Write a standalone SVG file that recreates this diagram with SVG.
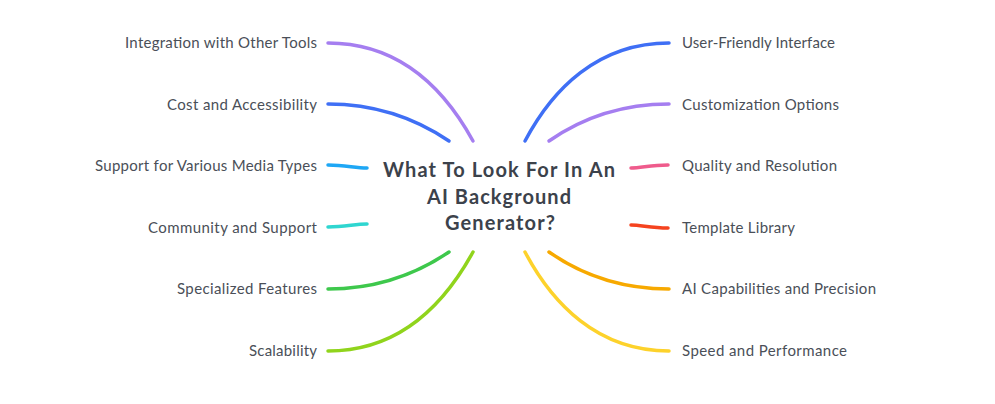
<svg xmlns="http://www.w3.org/2000/svg" width="995" height="404" viewBox="0 0 995 404">
<style>
.c{fill:none;stroke-width:3.5;stroke-linecap:round}
.l{font-family:Lato,"Noto Sans",sans-serif;font-size:15px;fill:#4a4f58}
.r{text-anchor:end}
.t{font-family:Lato,"Noto Sans",sans-serif;font-size:20px;font-weight:bold;fill:#3c424b;text-anchor:middle}
</style>
<rect width="995" height="404" fill="#ffffff"/>
<g id="connectors">
<path class="c" stroke="#a57ef0" d="M328,43 C400,43 445,90 473,141"/>
<path class="c" stroke="#3f6ff5" d="M328,104 C375,104 415,118 449,141"/>
<path class="c" stroke="#1ea7f5" d="M328,165 C345,165 355,168 367,168"/>
<path class="c" stroke="#2fd6d0" d="M328,227 C345,227 355,224 367,224"/>
<path class="c" stroke="#3ec84c" d="M328,289 C375,289 415,275 449,252"/>
<path class="c" stroke="#90d41c" d="M328,351 C400,351 445,303 473,252"/>
<path class="c" stroke="#3f6ff5" d="M669,43 C597,43 552,90 525,141"/>
<path class="c" stroke="#a57ef0" d="M669,104 C622,104 582,118 549,141"/>
<path class="c" stroke="#ef5b8c" d="M668,165 C651,165 641,168 631,168"/>
<path class="c" stroke="#f5431f" d="M668,228 C651,228 641,225 631,225"/>
<path class="c" stroke="#f7a900" d="M669,289 C622,289 582,275 549,252"/>
<path class="c" stroke="#fdd22b" d="M669,351 C597,351 552,303 525,252"/>
</g>
<g id="center"><text class="t" x="499" y="177" textLength="232" lengthAdjust="spacing">What To Look For In An</text><text class="t" x="499" y="204" textLength="144" lengthAdjust="spacing">AI Background</text><text class="t" x="500" y="230" textLength="110" lengthAdjust="spacing">Generator?</text></g>
<g id="n1"><text class="l r" x="317" y="48" textLength="192" lengthAdjust="spacing">Integration with Other Tools</text></g>
<g id="n2"><text class="l r" x="317" y="110" textLength="150" lengthAdjust="spacing">Cost and Accessibility</text></g>
<g id="n3"><text class="l r" x="317" y="171" textLength="222" lengthAdjust="spacing">Support for Various Media Types</text></g>
<g id="n4"><text class="l r" x="317" y="233" textLength="169" lengthAdjust="spacing">Community and Support</text></g>
<g id="n5"><text class="l r" x="317" y="294" textLength="140" lengthAdjust="spacing">Specialized Features</text></g>
<g id="n6"><text class="l r" x="317" y="356" textLength="68" lengthAdjust="spacing">Scalability</text></g>
<g id="n7"><text class="l" x="682" y="48" textLength="153" lengthAdjust="spacing">User-Friendly Interface</text></g>
<g id="n8"><text class="l" x="682" y="110" textLength="157" lengthAdjust="spacing">Customization Options</text></g>
<g id="n9"><text class="l" x="682" y="171" textLength="155" lengthAdjust="spacing">Quality and Resolution</text></g>
<g id="n10"><text class="l" x="682" y="233" textLength="113" lengthAdjust="spacing">Template Library</text></g>
<g id="n11"><text class="l" x="682" y="294" textLength="194" lengthAdjust="spacing">AI Capabilities and Precision</text></g>
<g id="n12"><text class="l" x="682" y="356" textLength="165" lengthAdjust="spacing">Speed and Performance</text></g>
</svg>
